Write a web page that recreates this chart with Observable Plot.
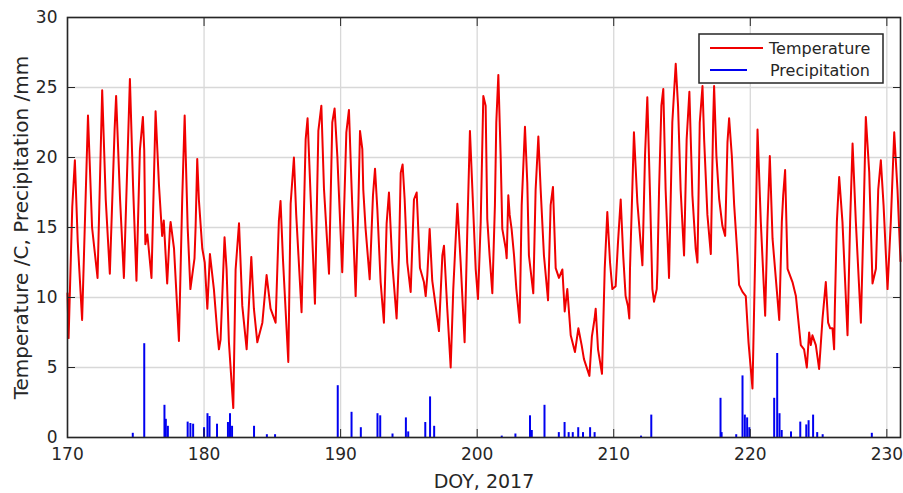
<!DOCTYPE html>
<html><head><meta charset="utf-8">
<script src="https://cdn.jsdelivr.net/npm/d3@7"></script>
<script src="https://cdn.jsdelivr.net/npm/@observablehq/plot@0.6"></script>
<style>
html,body{margin:0;padding:0;background:#fff;}
#chart{position:relative;width:903px;height:493px;}
</style></head><body><div id="chart"></div>
<script>
// ---- data ----
const tempDoy = [
170.0,170.08,170.35,170.54,170.75,171.07,171.5,171.8,172.2,172.54,172.8,173.1,173.45,173.56,173.85,174.13,174.57,174.8,175.05,175.3,175.52,175.62,175.7,175.85,176.15,176.45,176.7,176.93,177.05,177.3,177.5,
177.55,177.8,178.16,178.4,178.58,178.8,179.0,179.3,179.38,179.5,179.62,179.87,180.05,180.24,180.43,180.72,180.97,181.09,181.21,181.5,181.65,181.82,182.14,182.31,182.56,182.8,183.12,183.46,183.65,183.9,184.27,184.58,184.87,185.24,
185.48,185.6,185.78,186.17,186.34,186.58,186.75,187.14,187.44,187.58,187.8,188.12,188.37,188.59,188.78,189.15,189.39,189.56,189.76,190.12,190.42,190.61,190.81,191.1,191.3,191.42,191.59,191.66,191.83,192.13,192.37,192.52,192.69,192.93,
193.17,193.37,193.54,193.78,194.1,194.27,194.4,194.54,194.69,194.88,195.13,195.37,195.57,195.81,196.1,196.23,196.35,196.52,196.71,196.96,197.2,197.45,197.57,197.81,198.06,198.25,198.55,198.79,199.08,199.28,199.47,199.65,199.89,200.06,200.26,200.45,200.62,
200.74,200.91,201.11,201.3,201.4,201.55,201.72,201.84,202.09,202.16,202.28,202.38,202.52,202.7,202.87,203.11,203.26,203.5,203.67,203.79,204.11,204.28,204.48,204.65,204.89,205.19,205.38,205.55,205.75,205.99,206.24,206.41,206.6,206.85,207.16,207.41,207.65,207.82,208.22,
208.4,208.6,208.68,208.85,209.14,209.34,209.53,209.73,209.9,210.14,210.31,210.51,210.7,210.87,211.04,211.14,211.19,211.36,211.48,211.73,212.1,212.29,212.46,212.66,212.83,212.95,213.15,213.2,213.32,213.49,213.63,213.8,214.05,214.29,214.54,214.71,214.9,215.15,215.34,215.54,215.76,216.0,
216.13,216.3,216.5,216.62,216.86,217.11,217.28,217.35,217.52,217.72,217.96,218.16,218.33,218.45,218.65,218.82,219.06,219.18,219.43,219.67,219.87,220.16,220.36,220.53,220.77,221.09,221.26,221.43,221.63,222.12,222.31,222.41,222.55,222.73,223.09,223.34,223.7,
223.94,224.14,224.31,224.43,224.55,224.8,225.04,225.29,225.53,225.7,225.85,226.02,226.14,226.19,226.34,226.51,226.75,227.12,227.31,227.49,227.73,228.1,228.29,228.46,228.71,228.95,229.2,229.37,229.56,229.76,230.05,230.29,230.54,230.78,231.0
];
const tempC = [
10.3,7.1,16.5,19.8,14.0,8.4,23.0,15.0,11.4,24.8,17.0,11.7,22.0,24.4,17.0,11.4,25.6,18.0,11.2,20.5,22.9,20.5,13.8,14.5,11.4,23.3,18.0,14.4,15.5,11.0,14.9,
15.4,13.5,6.9,17.0,23.0,15.0,10.6,12.8,15.0,19.9,17.0,13.5,12.5,9.2,13.1,10.6,7.5,6.3,7.0,14.3,12.0,6.8,2.1,12.0,15.3,9.4,6.3,12.9,9.2,6.8,8.2,11.6,9.2,8.2,
15.5,16.9,12.7,5.4,16.7,20.0,15.9,8.95,21.3,22.8,17.3,9.55,21.9,23.7,17.8,11.7,22.5,23.5,20.1,11.8,21.8,23.4,17.7,10.1,16.6,21.9,20.6,17.7,14.9,11.3,17.3,19.2,16.3,11.1,
8.2,15.3,17.5,12.5,8.5,12.9,18.9,19.5,17.0,12.5,10.4,17.0,17.5,12.1,11.1,10.1,11.6,14.9,11.2,9.4,7.6,13.0,13.7,9.2,5.0,10.6,16.7,12.5,6.8,14.9,21.9,17.7,12.05,9.9,15.4,24.4,23.7,
15.6,13.0,10.3,16.6,22.5,25.9,20.1,14.9,13.5,12.8,17.3,15.9,14.9,13.0,10.6,8.2,16.6,22.2,18.2,13.0,10.3,17.7,21.5,17.7,13.0,9.8,16.6,17.9,12.1,11.4,12.0,9.0,10.6,7.3,6.1,7.8,6.6,5.6,4.4,
7.2,8.5,9.2,6.3,4.55,12.05,16.1,12.5,10.6,10.8,13.9,17.0,12.9,10.1,9.4,8.5,12.0,17.7,21.8,16.8,12.3,20.1,24.3,17.3,10.6,9.7,10.6,12.0,17.7,23.7,24.9,17.7,11.4,22.5,26.7,23.7,17.7,13.0,21.3,24.7,17.3,13.5,
12.5,22.5,25.1,21.3,15.9,13.1,22.5,25.1,20.1,17.05,15.1,14.4,21.1,22.8,20.1,16.6,13.0,10.9,10.4,10.1,6.8,3.5,13.0,22.0,15.4,8.7,15.4,20.1,14.2,8.4,15.4,17.3,19.1,12.05,11.1,10.1,6.6,
6.3,5.0,7.5,6.6,7.3,6.6,4.9,8.5,11.1,8.2,7.8,7.8,6.3,9.2,15.4,18.6,15.4,7.3,15.4,21.0,15.4,8.2,15.4,22.9,18.95,11.0,12.05,17.7,19.8,16.6,10.6,15.4,21.8,17.7,12.6
];
const precipDoy = [
174.78,175.62,177.1,177.2,177.35,178.8,179.0,179.2,180.0,180.25,180.4,180.95,181.75,181.9,182.05,183.66,184.6,185.2,
189.79,190.8,191.48,192.7,192.9,193.8,194.78,194.95,196.2,196.55,196.85,
201.8,202.8,203.87,204.0,204.93,205.98,206.4,206.7,207.0,207.4,207.75,208.27,208.6,
212.0,212.75,217.82,217.9,218.97,219.43,219.6,219.77,219.93,221.75,221.97,222.14,222.3,222.98,
223.66,224.1,224.27,224.6,224.9,225.3,228.9
];
const precipMm = [
0.3,6.7,2.3,1.3,0.8,1.1,1.0,0.95,0.7,1.7,1.5,0.95,1.07,1.7,0.8,0.8,0.2,0.2,
3.7,1.8,0.7,1.7,1.55,0.25,1.4,0.4,1.07,2.9,0.8,
0.1,0.25,1.55,0.5,2.3,0.35,1.07,0.35,0.35,0.7,0.35,0.7,0.35,
0.1,1.6,2.8,0.35,0.2,4.4,1.6,1.4,0.7,2.8,6.0,1.7,0.5,0.4,
1.1,0.9,1.2,1.6,0.35,0.2,0.3
];
const xTicks = [170, 180, 190, 200, 210, 220, 230];
const yTicks = [0, 5, 10, 15, 20, 25, 30];
const seriesNames = ["Temperature", "Precipitation"];
const xTitle = "DOY, 2017";
const yTitle = "Temperature /C, Precipitation /mm";

// ---- styles ----
const RED = "#f00000", BLUE = "#0000f0", INK = "#262626", GRID = "#d8d8d8";
const FONT = "'DejaVu Sans', sans-serif";

const temp = tempDoy.map((d, i) => ({doy: d, t: tempC[i]}));
const precip = precipDoy.map((d, i) => ({doy: d, mm: precipMm[i]}));
const blank = () => "";

const plot = Plot.plot({
  width: 903, height: 493,
  marginLeft: 67, marginRight: 3, marginTop: 17, marginBottom: 56,
  style: {fontFamily: FONT, fontSize: "17px", color: INK, background: "#fff", overflow: "visible"},
  x: {domain: [170, 231]},
  y: {domain: [0, 30]},
  marks: [
    Plot.gridX(xTicks, {stroke: GRID, strokeOpacity: 1, strokeWidth: 1.3}),
    Plot.gridY(yTicks, {stroke: GRID, strokeOpacity: 1, strokeWidth: 1.3}),
    Plot.line(temp, {x: "doy", y: "t", stroke: RED, strokeWidth: 2}),
    Plot.ruleX(precip, {x: "doy", y1: 0, y2: "mm", stroke: BLUE, strokeWidth: 2}),
    Plot.frame({stroke: INK, strokeWidth: 1.6}),
    Plot.axisX(xTicks, {anchor: "bottom", tickSize: -8, tickPadding: 18, label: null, fontSize: 17, stroke: INK, fill: INK}),
    Plot.axisX(xTicks, {anchor: "top", tickSize: -8, tickFormat: blank, label: null, stroke: INK}),
    Plot.axisY(yTicks, {anchor: "left", tickSize: -8, tickPadding: 18, label: null, fontSize: 17, stroke: INK, fill: INK}),
    Plot.axisY(yTicks, {anchor: "right", tickSize: -8, tickFormat: blank, label: null, stroke: INK}),
    Plot.text([xTitle], {text: d => d, frameAnchor: "bottom", dy: 44, fontSize: 19, fill: INK, lineAnchor: "middle", textAnchor: "middle"}),
    Plot.text([yTitle], {text: d => d, frameAnchor: "left", dx: -46, rotate: -90, fontSize: 20, fill: INK, lineAnchor: "middle", textAnchor: "middle"})
  ]
});
document.getElementById("chart").appendChild(plot);

// legend inside the axes (top-right), as in the reference
const svg = d3.select(plot);
const lg = svg.append("g").attr("font-family", FONT).attr("font-size", 16).attr("fill", INK).attr("text-anchor", "start");
lg.append("rect").attr("x", 699).attr("y", 34).attr("width", 184).attr("height", 49)
  .attr("fill", "#fff").attr("stroke", INK).attr("stroke-width", 1.5);
lg.append("line").attr("x1", 710).attr("x2", 763).attr("y1", 48).attr("y2", 48).attr("stroke", RED).attr("stroke-width", 2);
lg.append("text").attr("x", 769).attr("y", 48).attr("dy", "0.35em").attr("text-anchor", "start").text(seriesNames[0]);
lg.append("line").attr("x1", 710).attr("x2", 747).attr("y1", 70).attr("y2", 70).attr("stroke", BLUE).attr("stroke-width", 2);
lg.append("text").attr("x", 770).attr("y", 70).attr("dy", "0.35em").attr("text-anchor", "start").text(seriesNames[1]);
</script></body></html>
